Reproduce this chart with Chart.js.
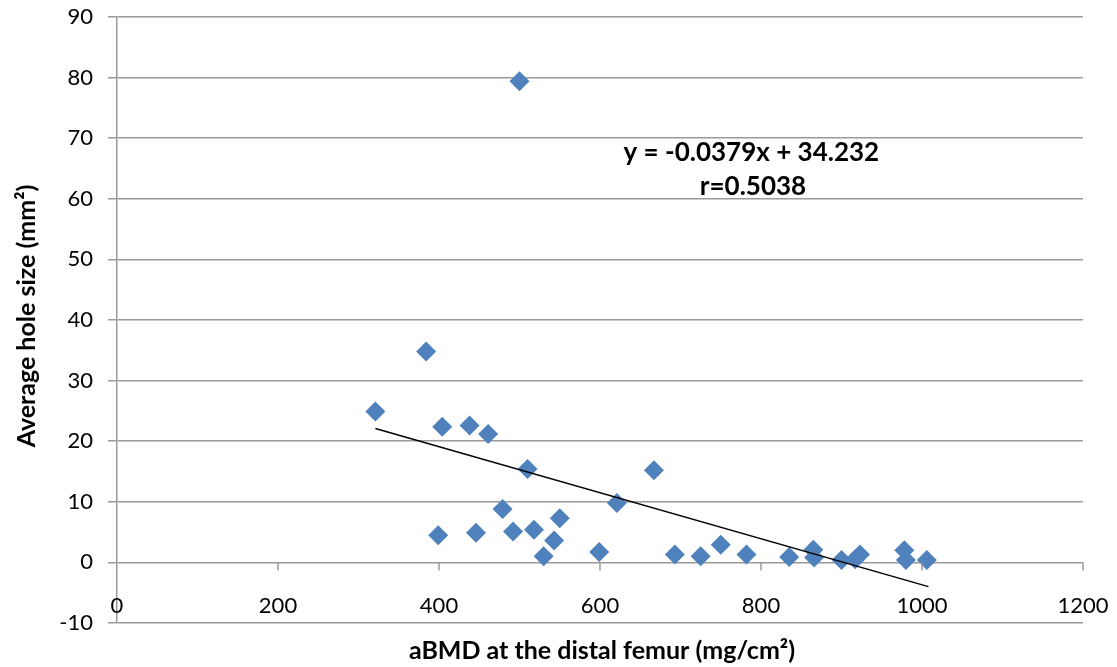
<!DOCTYPE html>
<html>
<head>
<meta charset="utf-8">
<script src="https://cdn.jsdelivr.net/npm/chart.js@4/dist/chart.umd.min.js"></script>
<style>
	html, body { margin: 0; padding: 0; background: #fff; }
	#wrap { width: 1117px; height: 667px; position: relative; }
</style>
</head>
<body>
<div id="wrap"><canvas id="chart-bmd"></canvas></div>
<script>
// aBMD (mg/cm2) vs average hole size (mm2)
const BMD = [
	321, 384, 399, 404, 438, 446, 461, 479, 492, 500, 510, 518, 530, 543, 550,
	599, 621, 667, 693, 725, 750, 782, 835, 865, 866, 900, 917, 923, 978, 980, 1006,
];
const HOLE_SIZE = [
	24.9, 34.8, 4.5, 22.4, 22.6, 4.9, 21.2, 8.8, 5.1, 79.4, 15.4, 5.4, 1.0, 3.6, 7.3,
	1.7, 9.8, 15.2, 1.3, 1.0, 2.9, 1.3, 0.9, 2.1, 0.8, 0.4, 0.5, 1.3, 2.0, 0.4, 0.4,
];
// trend line end points (x, y)
const TREND_X = [321, 1008];
const TREND_Y = [22.1, -4.0];
const X_TICKS = [0, 200, 400, 600, 800, 1000, 1200];
const EQUATION = ["y = -0.0379x + 34.232", "r=0.5038"];

const FONT = "Lato, 'Open Sans', sans-serif";
const GRID = "#9a9a9a";
const BLUE = "#4f81bd";

const annotations = {
	id: "annotations",
	afterDraw(chart) {
		const { ctx, scales } = chart;
		const x = scales.x;
		const y = scales.y;
		const zeroY = y.getPixelForValue(0);
		ctx.save();
		// x axis crossing at y = 0, with tick marks
		ctx.strokeStyle = GRID;
		ctx.lineWidth = 1.5;
		X_TICKS.forEach((v) => {
			if (v === 0) return;
			const px = Math.round(x.getPixelForValue(v));
			ctx.beginPath();
			ctx.moveTo(px, zeroY);
			ctx.lineTo(px, zeroY + 8);
			ctx.stroke();
		});
		// x tick labels
		ctx.fillStyle = "#000";
		ctx.font = "22px " + FONT;
		ctx.textAlign = "center";
		ctx.textBaseline = "middle";
		X_TICKS.forEach((v) => {
			ctx.fillText(String(v), x.getPixelForValue(v), 606);
		});
		// axis titles
		ctx.font = "bold 25px " + FONT;
		ctx.fillText("aBMD at the distal femur (mg/cm²)", 602, 651);
		ctx.save();
		ctx.translate(27, 316);
		ctx.rotate(-Math.PI / 2);
		ctx.fillText("Average hole size (mm²)", 0, 0);
		ctx.restore();
		// equation
		ctx.font = "bold 26px " + FONT;
		ctx.fillText(EQUATION[0], x.getPixelForValue(788), y.getPixelForValue(67.6));
		ctx.fillText(EQUATION[1], x.getPixelForValue(790), y.getPixelForValue(62));
		ctx.restore();
	},
};

const CHART_DATA = {
	datasets: [
		{
			type: "scatter",
			label: "Hole size",
			data: BMD.map((v, i) => ({ x: v, y: HOLE_SIZE[i] })),
			pointStyle: "rectRot",
			pointRadius: 10,
			pointHoverRadius: 10,
			backgroundColor: BLUE,
			borderColor: BLUE,
			borderWidth: 0,
			order: 2,
		},
		{
			type: "line",
			label: "Trend",
			data: TREND_X.map((v, i) => ({ x: v, y: TREND_Y[i] })),
			borderColor: "#000",
			borderWidth: 1.5,
			pointRadius: 0,
			fill: false,
			order: 1,
		},
	],
};

const CHART_CONFIG = {
	type: "scatter",
	data: CHART_DATA,
	plugins: [annotations],
	options: {
		responsive: true,
		maintainAspectRatio: false,
		animation: false,
		layout: {
			padding: { left: 0, top: 17, right: 34, bottom: 44 },
		},
		plugins: {
			legend: { display: false },
			title: { display: false },
			tooltip: { enabled: false },
		},
		scales: {
			x: {
				type: "linear",
				display: false,
				min: 0,
				max: 1200,
			},
			y: {
				min: -10,
				max: 90,
				afterFit: (scale) => {
					scale.width = 117;
					scale.paddingTop = 0;
					scale.paddingBottom = 0;
				},
				border: { display: true, color: GRID, width: 1.5 },
				grid: {
					color: GRID,
					lineWidth: 1.5,
					tickLength: 9,
				},
				ticks: {
					stepSize: 10,
					padding: 15,
					color: "#000",
					font: { family: FONT, size: 22 },
				},
			},
		},
	},
};

new Chart(document.getElementById("chart-bmd"), CHART_CONFIG);
</script>
</body>
</html>
